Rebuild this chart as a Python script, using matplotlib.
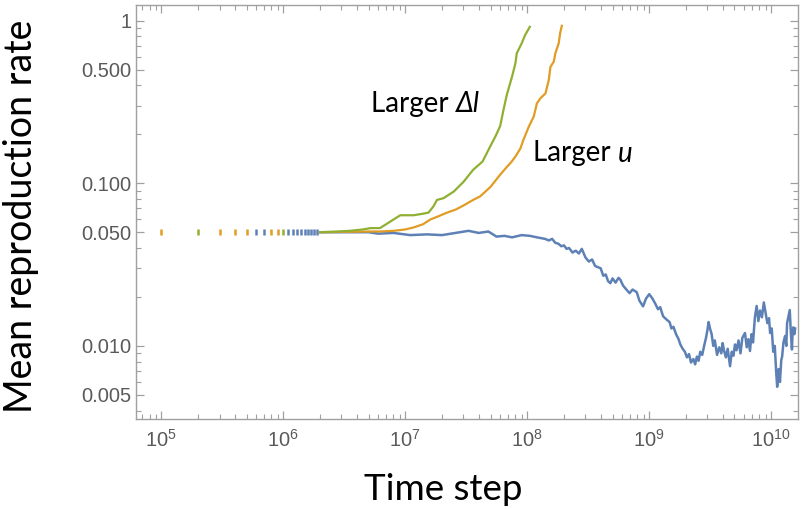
import matplotlib
matplotlib.use("Agg")
import matplotlib.pyplot as plt
from matplotlib.ticker import FixedLocator, FixedFormatter, LogLocator, NullFormatter

plt.rcParams["mathtext.default"] = "regular"

# early sparse samples (drawn as little dashes at 0.05)
orange_dots = [1e5, 3e5, 4e5, 5e5, 8e5, 9e5]
green_dots = [2e5, 1e6]
blue_dots = [6e5, 7e5, 1.1e6, 1.2e6, 1.3e6, 1.4e6, 1.5e6, 1.6e6, 1.7e6, 1.8e6, 1.9e6]
dot_level = 0.05

blue_t = [2e6, 5e6, 6e6, 8e6, 1.1e7, 1.5e7, 2.0e7, 2.8e7, 3.3e7, 4.0e7, 4.8e7, 5.6e7,
          6.5e7, 7.5e7, 9e7, 1.05e8, 1.2e8, 1.4e8, 1.5e8, 1.6e8, 1.7e8, 1.8e8, 1.9e8,
          2.0e8, 2.1e8, 2.2e8, 2.35e8, 2.5e8, 2.65e8, 2.8e8,
          3.0e8, 3.2e8, 3.4e8, 3.6e8, 3.8e8, 4.0e8, 4.2e8, 4.4e8, 4.6e8, 4.8e8, 5.0e8,
          5.3e8, 5.6e8, 5.8e8, 6.1e8, 6.4e8, 6.9e8, 7.3e8, 7.9e8, 8.3e8, 8.9e8, 9.4e8,
          1.0e9, 1.06e9, 1.12e9, 1.18e9, 1.23e9, 1.3e9, 1.39e9, 1.47e9, 1.52e9, 1.58e9,
          1.66e9, 1.74e9, 1.8e9, 1.88e9, 1.96e9, 2.04e9, 2.12e9, 2.2e9, 2.3e9, 2.38e9,
          2.46e9, 2.54e9, 2.62e9, 2.72e9, 2.82e9, 2.92e9, 3.0e9, 3.07e9, 3.15e9, 3.25e9,
          3.35e9, 3.45e9, 3.6e9, 3.75e9, 3.9e9, 4.0e9, 4.1e9, 4.25e9, 4.4e9, 4.6e9,
          4.75e9, 4.9e9, 5.05e9, 5.2e9, 5.4e9, 5.6e9, 5.8e9, 6.1e9, 6.3e9, 6.5e9, 6.7e9,
          6.9e9, 7.1e9, 7.35e9, 7.6e9, 7.85e9, 8.1e9, 8.4e9, 8.7e9, 9.0e9, 9.3e9, 9.6e9,
          9.8e9, 1.01e10, 1.04e10, 1.07e10, 1.1e10, 1.12e10, 1.15e10, 1.18e10, 1.21e10,
          1.23e10, 1.26e10, 1.3e10, 1.33e10, 1.35e10, 1.38e10, 1.42e10, 1.45e10, 1.48e10,
          1.5e10, 1.52e10, 1.55e10, 1.57e10]
blue_y = [0.050, 0.050, 0.049, 0.0495, 0.048, 0.0485, 0.048, 0.050, 0.051, 0.0495, 0.0505, 0.047,
          0.0475, 0.0465, 0.048, 0.0475, 0.0465, 0.0455, 0.0445, 0.0455, 0.043, 0.0425, 0.041,
          0.0415, 0.0395, 0.040, 0.0375, 0.0385, 0.037, 0.0395,
          0.035, 0.033, 0.034, 0.031, 0.0305, 0.030, 0.027, 0.0275, 0.025, 0.0243, 0.026,
          0.0245, 0.0262, 0.0255, 0.0235, 0.0225, 0.0211, 0.0222, 0.0214, 0.019, 0.0175, 0.0195,
          0.0208, 0.0196, 0.0182, 0.0168, 0.0173, 0.0152, 0.0145, 0.0140, 0.0128, 0.0131,
          0.0118, 0.0110, 0.0102, 0.0096, 0.0092, 0.0085, 0.0089, 0.0079, 0.0083, 0.0077,
          0.0086, 0.0081, 0.0092, 0.0088, 0.0100, 0.0112, 0.0125, 0.0140, 0.0128, 0.0118,
          0.0100, 0.0108, 0.0088, 0.0098, 0.0090, 0.0104, 0.0094, 0.0085, 0.0096, 0.0075,
          0.0092, 0.0087, 0.0102, 0.0094, 0.0108, 0.0090, 0.0112, 0.0120, 0.0098, 0.0110, 0.0093,
          0.0118, 0.0105, 0.0150, 0.0176, 0.0142, 0.0165, 0.0150, 0.0185, 0.0160, 0.0138, 0.0148,
          0.0120, 0.0128, 0.0092, 0.0100, 0.0068, 0.0056, 0.0072, 0.0060, 0.0082,
          0.0086, 0.0105, 0.0115, 0.0100, 0.0138, 0.0150, 0.0166, 0.0120, 0.0095,
          0.0125, 0.0130, 0.0118, 0.0128]

orange_t = [2e6, 5e6, 6.2e6, 8e6, 1.0e7, 1.17e7, 1.4e7, 1.6e7, 1.9e7, 2.2e7, 2.6e7, 3.0e7,
            3.6e7, 4.1e7, 5.0e7, 6.0e7, 6.8e7, 7.4e7, 8.0e7, 8.8e7, 9.3e7, 1.03e8, 1.13e8,
            1.2e8, 1.28e8, 1.41e8, 1.5e8, 1.55e8, 1.65e8, 1.7e8, 1.81e8, 1.86e8, 1.92e8]
orange_y = [0.050, 0.0505, 0.0505, 0.051, 0.052, 0.0535, 0.056, 0.0598, 0.063, 0.066, 0.069, 0.073,
            0.079, 0.083, 0.095, 0.113, 0.126, 0.135, 0.146, 0.164, 0.185, 0.223, 0.257,
            0.31, 0.333, 0.357, 0.43, 0.52, 0.56, 0.63, 0.725, 0.836, 0.93]

green_t = [2e6, 2.8e6, 3.5e6, 4.5e6, 5.2e6, 6.2e6, 7.5e6, 9.1e6, 1.17e7, 1.4e7, 1.55e7, 1.7e7,
           1.82e7, 2.06e7, 2.5e7, 3.0e7, 3.6e7, 4.3e7, 5.0e7, 5.5e7, 6.0e7, 6.4e7, 6.8e7,
           7.5e7, 8.0e7, 8.2e7, 9.0e7, 9.6e7, 1.05e8]
green_y = [0.050, 0.0505, 0.051, 0.052, 0.053, 0.053, 0.058, 0.0636, 0.0636, 0.065, 0.066, 0.072,
           0.079, 0.081, 0.089, 0.102, 0.121, 0.136, 0.17, 0.195, 0.225, 0.285, 0.35,
           0.452, 0.547, 0.63, 0.725, 0.815, 0.917]

y_ticks = [0.005, 0.01, 0.05, 0.1, 0.5, 1]
y_labels = ["0.005", "0.010", "0.050", "0.100", "0.500", "1"]
y_minor = [0.004, 0.006, 0.007, 0.008, 0.009, 0.02, 0.03, 0.04, 0.06, 0.07, 0.08, 0.09,
           0.2, 0.3, 0.4, 0.6, 0.7, 0.8, 0.9]

BLUE = "#5e81b5"
ORANGE = "#e19c24"
GREEN = "#8fb032"
FRAME = "#a0a0a0"

fig = plt.figure(figsize=(8.01, 5.09), dpi=100)
ax = fig.add_axes([0.1698, 0.1768, 0.8265, 0.8132])

for xs, c in [(orange_dots, ORANGE), (green_dots, GREEN), (blue_dots, BLUE)]:
    ax.plot(xs, [dot_level] * len(xs), ls="none", marker="|", ms=5, mew=1.8, color=c)

ax.plot(blue_t, blue_y, color=BLUE, lw=1.8)
ax.plot(orange_t, orange_y, color=ORANGE, lw=1.6)
ax.plot(green_t, green_y, color=GREEN, lw=1.6)

ax.set_xscale("log")
ax.set_yscale("log")
ax.set_xlim(6.2e4, 1.66e10)
ax.set_ylim(0.00355, 1.247)

ax.xaxis.set_major_locator(LogLocator(base=10, numticks=20))
ax.xaxis.set_minor_locator(LogLocator(base=10, subs=range(2, 10), numticks=20))
ax.xaxis.set_minor_formatter(NullFormatter())
ax.yaxis.set_major_locator(FixedLocator(y_ticks))
ax.yaxis.set_major_formatter(FixedFormatter(y_labels))
ax.yaxis.set_minor_locator(FixedLocator(y_minor))
ax.yaxis.set_minor_formatter(NullFormatter())

for s in ax.spines.values():
    s.set_color(FRAME)
    s.set_linewidth(1.0)
ax.tick_params(which="both", direction="in", top=True, right=True, color=FRAME,
               labelcolor="#5a5a5a", labelsize=14.5)
ax.tick_params(which="major", length=6, width=0.9)
ax.tick_params(which="minor", length=3.5, width=0.8)
for lab in ax.get_xticklabels() + ax.get_yticklabels():
    lab.set_fontfamily("Liberation Sans")
ax.tick_params(axis="x", pad=7)

# axis titles placed on the figure (pixel positions from the reference)
fig.text(443 / 801, 9 / 509, "Time step", fontsize=26.5, family="Lato",
         ha="center", va="baseline")
fig.text(21 / 801, 1 - 216 / 509, "Mean reproduction rate", fontsize=27, family="Lato",
         rotation=90, ha="center", va="center")

t1 = ax.text(371, 509 - 111.7, "Larger ", transform=None, fontsize=20, family="Lato",
             va="baseline", ha="left")
ax.annotate("\u0394l", xy=(1, 0), xycoords=t1, fontsize=20, family="Lato",
            style="italic", va="bottom", ha="left")
t2 = ax.text(533, 509 - 161.5, "Larger ", transform=None, fontsize=20, family="Lato",
             va="baseline", ha="left")
ax.annotate("u", xy=(1, 0), xycoords=t2, fontsize=20, family="Lato",
            style="italic", va="bottom", ha="left")

fig.savefig("out.png", dpi=100)
